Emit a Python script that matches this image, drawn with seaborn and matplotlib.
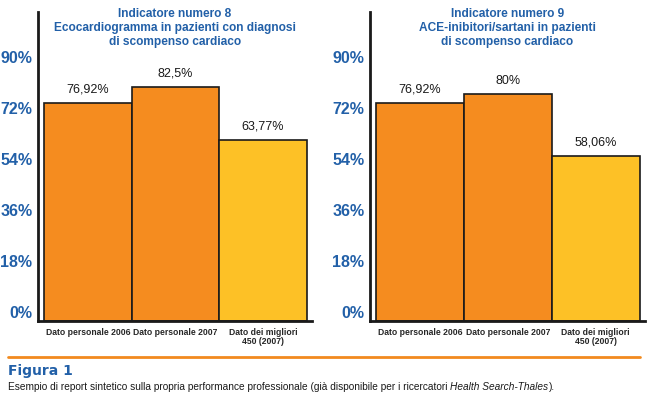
import numpy as np
import pandas as pd
import matplotlib
matplotlib.use("Agg")
import matplotlib.pyplot as plt
import seaborn as sns
from matplotlib import font_manager

categories = ["Dato personale 2006", "Dato personale 2007", "Dato dei migliori\n450 (2007)"]
values_ind8 = [76.92, 82.5, 63.77]
values_ind9 = [76.92, 80.0, 58.06]
titles = [
    "Indicatore numero 8\nEcocardiogramma in pazienti con diagnosi\ndi scompenso cardiaco",
    "Indicatore numero 9\nACE-inibitori/sartani in pazienti\ndi scompenso cardiaco",
]
yticks = [0, 18, 36, 54, 72, 90]

bar_colors = ["#F58C1F", "#F58C1F", "#FDC126"]
blue = "#2260A8"
orange = "#F28A1E"

sns.set_style("white")
names = {f.name for f in font_manager.fontManager.ttflist}
narrow = "Liberation Sans Narrow" if "Liberation Sans Narrow" in names else "Liberation Sans"
plt.rcParams["font.family"] = [narrow, "DejaVu Sans"]

fig = plt.figure(figsize=(6.49, 3.98), dpi=100)
W, H = 649, 398

# axes positions in pixels: left, right, top, bottom
boxes = [(38, 312, 12, 321), (370, 645, 12, 321)]

for (x0, x1, y0, y1), vals, title in zip(boxes, [values_ind8, values_ind9], titles):
    ax = fig.add_axes([x0 / W, 1 - y1 / H, (x1 - x0) / W, (y1 - y0) / H])
    df = pd.DataFrame({"cat": categories, "val": vals})
    sns.barplot(data=df, x="cat", y="val", hue="cat", palette=bar_colors,
                width=1.0, edgecolor="#1a1a1a", linewidth=1.2, legend=False,
                saturation=1, ax=ax)
    ax.set_xlim(-0.57, 2.56)
    ax.set_ylim(0, 109)
    ax.set_yticks(yticks)
    ax.set_yticklabels([f"{t}%" for t in yticks], color=blue, fontsize=11.5,
                       fontweight="bold", va="bottom")
    ax.tick_params(axis="y", length=0, pad=4)
    ax.tick_params(axis="x", length=0, pad=5)
    ax.set_xticks(range(len(categories)))
    ax.set_xticklabels(categories, fontsize=6.2, fontweight="bold",
                       linespacing=0.95)
    ax.set_xlabel("")
    ax.set_ylabel("")
    for s in ["top", "right"]:
        ax.spines[s].set_visible(False)
    for s in ["left", "bottom"]:
        ax.spines[s].set_linewidth(2)
        ax.spines[s].set_color("#1a1a1a")
    for i, v in enumerate(vals):
        ax.annotate(f"{v:g}%".replace(".", ","), (i, v), xytext=(0, 5.5),
                    textcoords="offset points", ha="center", va="bottom",
                    fontsize=9, color="#1a1a1a")
    ax.text(0.5, 1.012, title, transform=ax.transAxes, ha="center", va="top",
            fontsize=8.6, fontweight="bold", color=blue, linespacing=1.18)

# bottom separator line and caption
fig.add_artist(plt.Line2D([8 / W, 640 / W], [1 - 357 / H, 1 - 357 / H],
                          color=orange, linewidth=2))
fig.text(8 / W, 1 - 371 / H, "Figura 1", fontsize=10, fontweight="bold",
         color=blue, family=["DejaVu Sans"], va="center")
cap = fig.text(8 / W, 1 - 387 / H,
               "Esempio di report sintetico sulla propria performance professionale "
               "(già disponibile per i ricercatori ",
               fontsize=7.3, color="#1a1a1a", va="center")
fig.canvas.draw()
bb = cap.get_window_extent(fig.canvas.get_renderer())
it = fig.text(bb.x1 / W, 1 - 387 / H, "Health Search-Thales",
              fontsize=7.3, style="italic", color="#1a1a1a", va="center")
fig.canvas.draw()
bb2 = it.get_window_extent(fig.canvas.get_renderer())
fig.text(bb2.x1 / W, 1 - 387 / H, ").", fontsize=7.3, color="#1a1a1a",
         va="center")

fig.savefig("out.png", dpi=100)
